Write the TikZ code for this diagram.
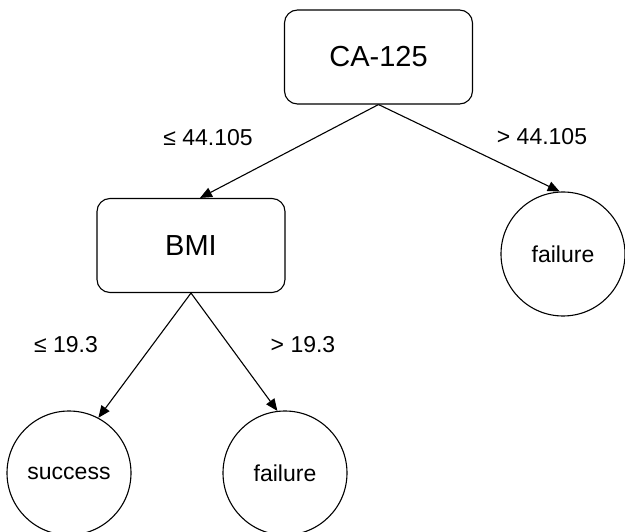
\documentclass[tikz,border=0pt]{standalone}
\usepackage{fontspec}
\setmainfont{Liberation Sans}
\usetikzlibrary{arrows.meta,calc}
\tikzset{
  box/.style={draw, line width=1.1pt, rounded corners=13pt, minimum width=188pt, minimum height=94pt, inner sep=0pt, font=\fontsize{29}{34}\selectfont},
  leaf/.style={draw, circle, line width=1.1pt, minimum size=124pt, inner sep=0pt, font=\fontsize{23}{28}\selectfont},
  lbl/.style={font=\fontsize{23}{28}\selectfont, inner sep=0pt},
  edge/.style={line width=1.1pt, -{Triangle[length=12pt,width=10pt]}}
}
\begin{document}
\begin{tikzpicture}[x=1pt,y=-1pt]
\useasboundingbox (0,0) rectangle (625,532);
\node[box] (ca) at (378.5,57) {CA-125};
\node[box] (bmi) at (191,245.5) {BMI};
\node[leaf] (f1) at (563,254) {failure};
\node[leaf] (s) at (69,473) {success};
\node[leaf] (f2) at (285,473) {failure};
\node[lbl] (l1) at (208,138) {≤ 44.105};
\node[lbl] (l2) at (542,137) {> 44.105};
\node[lbl] (l3) at (66,345) {≤ 19.3};
\node[lbl] (l4) at (303,345) {> 19.3};
\draw[edge] (ca.south) -- ($(bmi.north)+(9,0)$);
\draw[edge] (ca.south) -- (f1.93);
\draw[edge] (bmi.south) -- (s.62);
\draw[edge] (bmi.south) -- (f2.97);
\end{tikzpicture}
\end{document}
